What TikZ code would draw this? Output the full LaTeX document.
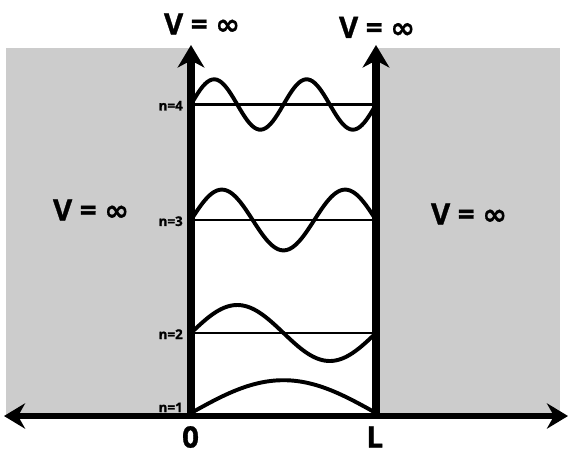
\documentclass[tikz,border=0pt]{standalone}
\usepackage{fontspec}
\setmainfont{Open Sans}
\newfontfamily\symfont[FakeBold=0.6]{DejaVu Sans Bold}
\newfontfamily\heavyfont[FakeBold=1.0]{Open Sans Bold}
\usepackage{xcolor}
\usetikzlibrary{arrows.meta}
\definecolor{wallGray}{HTML}{CCCCCC}
\newcommand{\Vinf}{V = {\symfont ∞}}

\begin{document}
\begin{tikzpicture}[font=\heavyfont,
  wall/.style={line width=5pt, -{Stealth[length=16pt, width=19pt, inset=5pt]}},
  level/.style={line width=1.6pt},
  wave/.style={line width=2.8pt, line cap=round},
  vinf/.style={font=\fontsize{21}{23}\selectfont\heavyfont, inner sep=0pt},
  nlab/.style={font=\fontsize{9.5}{10}\selectfont\heavyfont, anchor=east, inner sep=0pt}]
\useasboundingbox (0,0) rectangle (14.3,11.475);
\coordinate (O) at (4.775,1.075);
\coordinate (L) at (9.4,1.075);
\coordinate (Otop) at (4.775,10.35);
\coordinate (Ltop) at (9.4,10.35);
% the regions where V is infinite
\fill[wallGray] (0.15,1.075) rectangle (O |- 0,10.275);
\fill[wallGray] (L) rectangle (14.0,10.275);
% energy levels and wave functions
\foreach \n/\y/\a in {2/3.15/0.7, 3/5.975/0.76, 4/8.8625/0.63}{
  \draw[level] (4.775,\y) -- (9.4,\y);
  \draw[wave] plot[domain=0:1, samples=80] ({4.775+4.625*\x},{\y+\a*sin(\n*180*\x)});
  \node[nlab] at (4.575,\y-0.03) {n=\n};
}
\draw[wave] plot[domain=0:1, samples=60] ({4.775+4.625*\x},{1.15+0.82*sin(180*\x)});
\node[nlab] at (4.575,1.29) {n=1};
% axis and walls
\draw[line width=4.5pt, {Stealth[length=15pt, width=18pt, inset=5pt]}-{Stealth[length=15pt, width=18pt, inset=5pt]}] (0.1,1.075) -- (14.2,1.075);
\draw[wall] (O) -- (Otop);
\draw[wall] (L) -- (Ltop);
% labels
\node[vinf] (vtl) at (5.05,10.875) {\Vinf};
\node[vinf] (vtr) at (9.425,10.79) {\Vinf};
\node[vinf] (vml) at (2.275,6.225) {\Vinf};
\node[vinf] (vmr) at (11.725,6.125) {\Vinf};
\node[vinf] (zero) at (4.7625,0.55) {0};
\node[vinf] (ell) at (9.37,0.55) {L};
\end{tikzpicture}
\end{document}
